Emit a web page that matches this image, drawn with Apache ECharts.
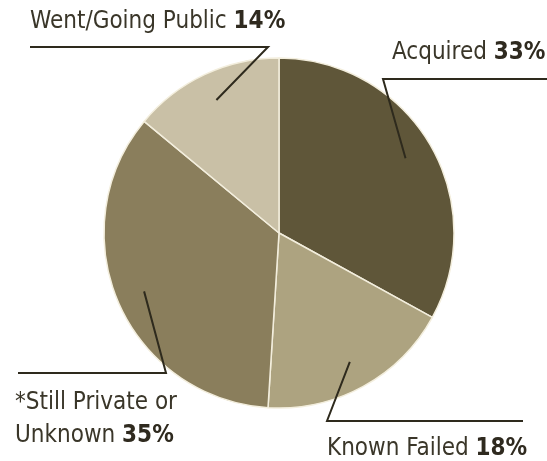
<!DOCTYPE html>
<html>
<head>
<meta charset="utf-8">
<script src="https://cdn.jsdelivr.net/npm/echarts@6/dist/echarts.min.js"></script>
<style>
  html, body { margin: 0; padding: 0; background: #ffffff; }
  #chart { width: 547px; height: 461px; }
</style>
</head>
<body>
<div id="chart"></div>
<script>
// Outcome categories, clockwise from 12 o'clock
const categories = ['Acquired', 'Known Failed', '*Still Private or\nUnknown', 'Went/Going Public'];
const shares = [33, 18, 35, 14];
const sliceColors = ['#5f5639', '#ada380', '#8a7e5c', '#c9c0a6'];

// Where each label block sits, and the elbow/end of its leader line
const labelSpots = [
  { x: 392, y: 53, elbow: [383, 79], end: [547, 79] },
  { x: 327, y: 449, elbow: [327, 421], end: [523, 421] },
  { x: 15, y: 419, elbow: [166, 373], end: [18, 373] },
  { x: 30, y: 22, elbow: [268, 47], end: [30, 47] }
];

const cx = 279, cy = 233, R = 175;

// Mid-angle of each slice (clockwise from top), for the leader-line anchors
const total = shares.reduce((a, b) => a + b, 0);
const midAngles = [];
let acc = 0;
shares.forEach(v => {
  midAngles.push((acc + v / 2) / total * Math.PI * 2);
  acc += v;
});

const chart = echarts.init(document.getElementById('chart'), null, { renderer: 'canvas' });
const font = '"Liberation Sans Narrow", "DejaVu Sans Condensed", "Arial Narrow", sans-serif';

const sliceData = categories.map((name, i) => ({
  name: name,
  value: shares[i],
  itemStyle: { color: sliceColors[i] }
}));
const calloutData = categories.map((name, i) => ({
  name: name,
  value: shares[i],
  itemStyle: { color: 'rgba(0,0,0,0)', borderWidth: 0 }
}));

const common = {
  type: 'pie',
  center: [cx, cy],
  radius: [0, R],
  startAngle: 90,
  clockwise: true,
  avoidLabelOverlap: false,
  emphasis: { disabled: true },
  silent: true
};

chart.setOption({
  animation: false,
  series: [
    // the slices
    Object.assign({}, common, {
      data: sliceData,
      z: 2,
      itemStyle: { borderColor: '#f3eedd', borderWidth: 1.5 },
      label: { show: false },
      labelLine: { show: false }
    }),
    // the callouts, drawn over the slices
    Object.assign({}, common, {
      data: calloutData,
      z: 5,
      label: {
        show: true,
        position: 'outside',
        formatter: p => '{n|' + p.name.replace('\n', '}\n{n|') + ' }{b|' + p.value + '%}',
        rich: {
          n: { fontFamily: font, fontSize: 24, color: '#3a3629', lineHeight: 33 },
          b: { fontFamily: font, fontSize: 24, fontWeight: 'bold', color: '#2f2a1f', lineHeight: 33 }
        }
      },
      labelLine: {
        show: true,
        lineStyle: { color: '#2e2a1d', width: 2 }
      },
      labelLayout: function (params) {
        const i = params.dataIndex;
        const s = labelSpots[i];
        const a = midAngles[i];
        const inner = [cx + Math.sin(a) * R * 0.84, cy - Math.cos(a) * R * 0.84];
        return {
          x: s.x,
          y: s.y,
          align: 'left',
          verticalAlign: 'middle',
          labelLinePoints: [inner, s.elbow, s.end]
        };
      }
    })
  ]
});
</script>
</body>
</html>
